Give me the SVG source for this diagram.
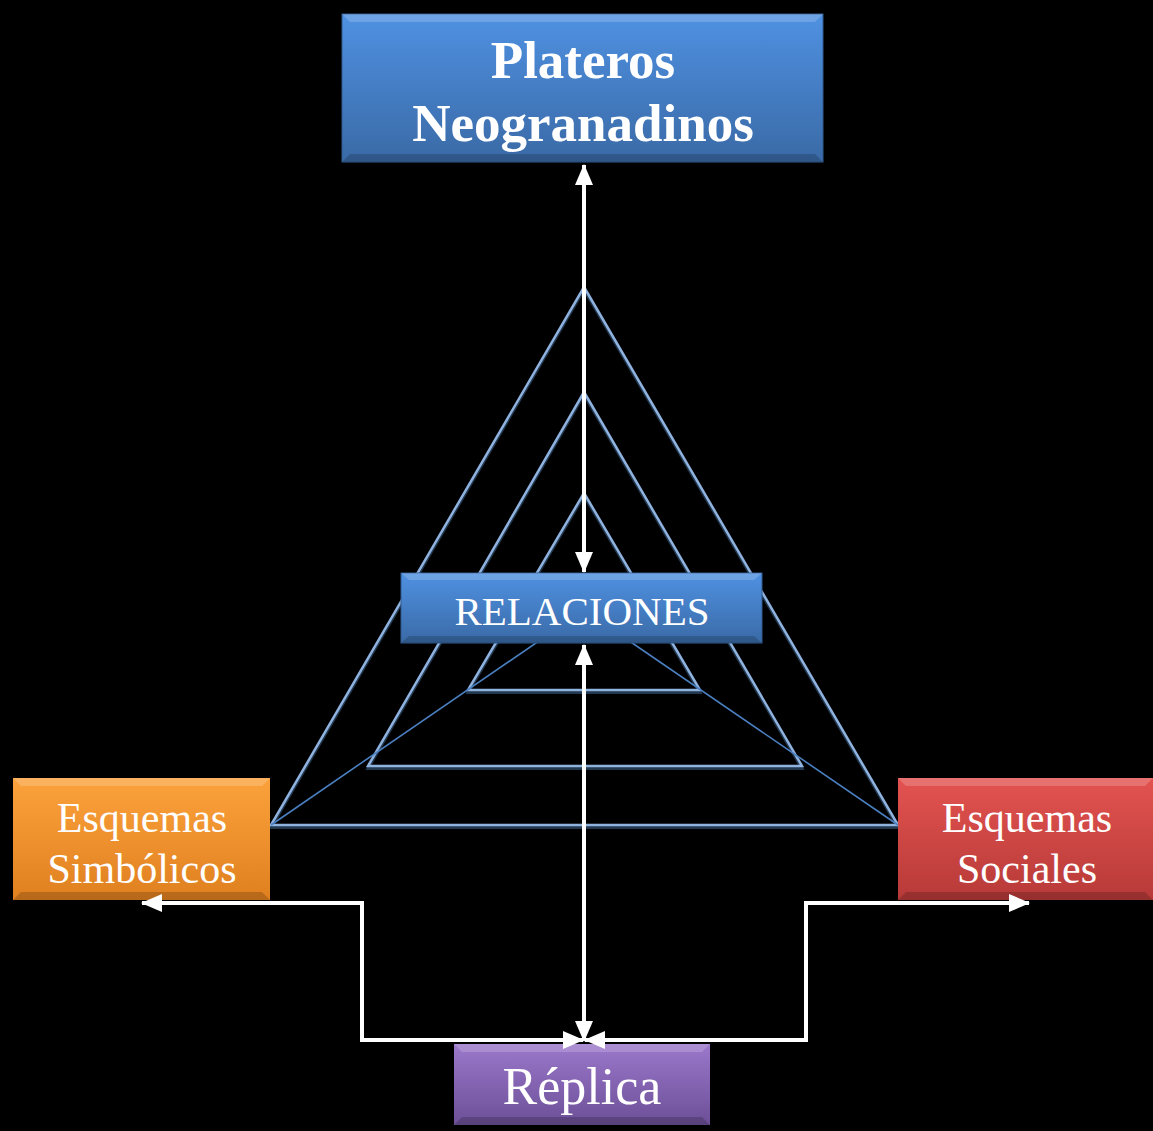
<svg xmlns="http://www.w3.org/2000/svg" width="1153" height="1131" viewBox="0 0 1153 1131">
<style>
.t{font-family:"Liberation Serif","Times New Roman",serif;fill:#fff;text-anchor:middle}
.tri{fill:none;stroke:#8fb2df;stroke-width:2.5;stroke-linejoin:miter}
.trs{fill:none;stroke:#22384f;stroke-width:3;stroke-linejoin:miter}
.thin{stroke:#4a7fc0;stroke-width:1.6;fill:none}
.arr{fill:none;stroke:#fff;stroke-width:4}
.hl{fill:#fff;opacity:0.18}
.sh{fill:#000;opacity:0.18}
</style>
<defs>
<linearGradient id="gB" x1="0" y1="0" x2="0" y2="1"><stop offset="0" stop-color="#4f91e2"/><stop offset="1" stop-color="#3a6aa6"/></linearGradient>
<linearGradient id="gO" x1="0" y1="0" x2="0" y2="1"><stop offset="0" stop-color="#fba23c"/><stop offset="1" stop-color="#e0801f"/></linearGradient>
<linearGradient id="gR" x1="0" y1="0" x2="0" y2="1"><stop offset="0" stop-color="#e35350"/><stop offset="1" stop-color="#b73a38"/></linearGradient>
<linearGradient id="gP" x1="0" y1="0" x2="0" y2="1"><stop offset="0" stop-color="#9b78cb"/><stop offset="1" stop-color="#6c4f97"/></linearGradient>
<marker id="ah" markerUnits="userSpaceOnUse" markerWidth="22" markerHeight="20" refX="20" refY="10" orient="auto-start-reverse" viewBox="0 0 22 20">
<path d="M0,1 L21,10 L0,19 z" fill="#fff"/>
</marker>
</defs>
<rect width="1153" height="1131" fill="#000"/>
<g id="pyramid">
<g transform="translate(0,2.5)">
<polygon class="trs" points="584,287 898,825 271,825"/>
<polygon class="trs" points="584,392 802,766 368,766"/>
<polygon class="trs" points="584,493 700,690 468,690"/>
</g>
<polygon class="tri" points="584,287 898,825 271,825"/>
<polygon class="tri" points="584,392 802,766 368,766"/>
<polygon class="tri" points="584,493 700,690 468,690"/>
<line class="thin" x1="271" y1="825" x2="584" y2="610"/>
<line class="thin" x1="898" y1="825" x2="584" y2="610"/>
</g>
<g id="plateros">
<rect x="342" y="14" width="481" height="148" fill="url(#gB)" stroke="#2f5a90" stroke-width="1"/>
<polygon class="hl" points="342,14 823,14 815,22 350,22"/>
<polygon class="sh" points="342,162 823,162 815,154 350,154"/>
<text class="t" x="583" y="78" font-size="53" font-weight="bold">Plateros</text>
<text class="t" x="583" y="141" font-size="53" font-weight="bold">Neogranadinos</text>
</g>
<g id="relaciones">
<rect x="401" y="573" width="361" height="70" fill="url(#gB)" stroke="#2f5a90" stroke-width="1"/>
<polygon class="hl" points="401,573 762,573 754,580 409,580"/>
<polygon class="sh" points="401,643 762,643 754,636 409,636"/>
<text class="t" x="582" y="625" font-size="41">RELACIONES</text>
</g>
<g id="simbolicos">
<rect x="13" y="778" width="257" height="122" fill="url(#gO)"/>
<polygon class="hl" points="13,778 270,778 262,786 21,786"/>
<polygon class="sh" points="13,900 270,900 262,892 21,892"/>
<text class="t" x="142" y="832" font-size="42">Esquemas</text>
<text class="t" x="142" y="883" font-size="42">Simbólicos</text>
</g>
<g id="sociales">
<rect x="898" y="778" width="255" height="122" fill="url(#gR)"/>
<polygon class="hl" points="898,778 1153,778 1145,786 906,786"/>
<polygon class="sh" points="898,900 1153,900 1145,892 906,892"/>
<text class="t" x="1027" y="832" font-size="42">Esquemas</text>
<text class="t" x="1027" y="883" font-size="42">Sociales</text>
</g>
<g id="replica">
<rect x="454" y="1044" width="256" height="81" fill="url(#gP)"/>
<polygon class="hl" points="454,1044 710,1044 702,1052 462,1052"/>
<polygon class="sh" points="454,1125 710,1125 702,1117 462,1117"/>
<text class="t" x="582" y="1104" font-size="52">Réplica</text>
</g>
<g id="connectors">
<line class="arr" x1="584" y1="165" x2="584" y2="572" marker-start="url(#ah)" marker-end="url(#ah)"/>
<line class="arr" x1="584" y1="645" x2="584" y2="1041" marker-start="url(#ah)" marker-end="url(#ah)"/>
<path class="arr" d="M583,1040 H362 V903 H142" marker-start="url(#ah)" marker-end="url(#ah)"/>
<path class="arr" d="M585,1040 H806 V903 H1029" marker-start="url(#ah)" marker-end="url(#ah)"/>
</g>
</svg>
